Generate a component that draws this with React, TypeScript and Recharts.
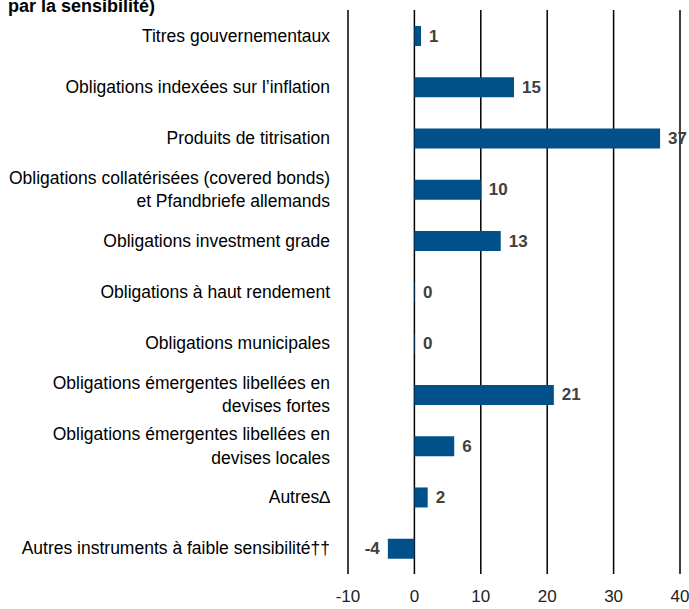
import { BarChart, Bar, XAxis, YAxis, CartesianGrid, LabelList } from "recharts";

const categories = [
  ["Titres gouvernementaux"],
  ["Obligations indexées sur l’inflation"],
  ["Produits de titrisation"],
  ["Obligations collatérisées (covered bonds)", "et Pfandbriefe allemands"],
  ["Obligations investment grade"],
  ["Obligations à haut rendement"],
  ["Obligations municipales"],
  ["Obligations émergentes libellées en", "devises fortes"],
  ["Obligations émergentes libellées en", "devises locales"],
  ["Autres∆"],
  ["Autres instruments à faible sensibilité††"],
];
const values = [1, 15, 37, 10, 13, 0, 0, 21, 6, 2, -4];
const xTicks = [-10, 0, 10, 20, 30, 40];

const data = categories.map((lines, i) => ({
  name: lines.join(" "),
  lines,
  value: values[i],
}));

const FONT = "'Liberation Sans', Arial, sans-serif";

const CategoryTick = (props: any) => {
  const { x, y, index } = props;
  const lines: string[] = data[index]?.lines ?? [];
  const lh = 23.5;
  const start = y - ((lines.length - 1) * lh) / 2;
  return (
    <text
      x={x - 18}
      y={start}
      textAnchor="end"
      fontFamily={FONT}
      fontSize={17.5}
      fill="#000"
      dominantBaseline="central"
    >
      {lines.map((l, i) => (
        <tspan key={i} x={x - 18} y={start + i * lh}>
          {l}
        </tspan>
      ))}
    </text>
  );
};

const ValueLabel = (props: any) => {
  const { x, y, width, height, value } = props;
  const neg = value < 0;
  const lx = neg ? x + width - 8 : x + Math.max(width, 0) + 8;
  return (
    <text
      x={lx}
      y={y + height / 2}
      textAnchor={neg ? "end" : "start"}
      dominantBaseline="central"
      fontFamily={FONT}
      fontSize={17}
      fontWeight="bold"
      fill="#404040"
    >
      {value}
    </text>
  );
};

export default function App() {
  return (
    <div style={{ position: "absolute", left: 0, top: 0, width: 689, height: 609 }}>
      <BarChart
        width={689}
        height={609}
        data={data}
        layout="vertical"
        margin={{ top: 10, right: 9, left: 0, bottom: 0 }}
        barCategoryGap={0}
      >
        <text x={8} y={12} fontFamily={FONT} fontSize={18} fontWeight="bold" fill="#000">
          par la sensibilité)
        </text>
        <CartesianGrid vertical horizontal={false} stroke="#000" strokeWidth={1.5} />
        <XAxis
          type="number"
          domain={[-10, 40]}
          ticks={xTicks}
          axisLine={false}
          tickLine={false}
          height={35}
          tickMargin={10}
          tick={{ fontSize: 17, fontFamily: FONT, fill: "#222" }}
        />
        <YAxis
          type="category"
          dataKey="name"
          width={348}
          axisLine={false}
          tickLine={false}
          tickSize={0}
          tickMargin={0}
          interval={0}
          tick={<CategoryTick />}
        />
        <Bar
          dataKey="value"
          fill="#00508A"
          barSize={20}
          minPointSize={0.5}
          isAnimationActive={false}
        >
          <LabelList dataKey="value" content={<ValueLabel />} />
        </Bar>
      </BarChart>
    </div>
  );
}
